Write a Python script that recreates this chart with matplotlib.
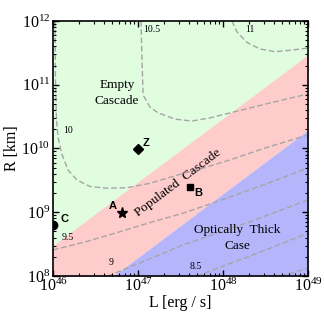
import numpy as np
import matplotlib
matplotlib.use("Agg")
from matplotlib import pyplot as plt
from matplotlib.ticker import LogLocator, NullFormatter

plt.rcParams['font.family'] = ['Liberation Serif', 'DejaVu Serif']
plt.rcParams['mathtext.fontset'] = 'stix'

# region boundaries, log10 L -> log10 R
bound_L = [46.0, 49.0]
green_red_R = [8.48, 11.47]     # empty / populated
red_blue_R = [7.29, 10.29]      # populated / optically thick

# dashed contours (log10 L, log10 R)
c11_L = [48.106, 48.165, 48.282, 48.435, 48.612, 48.824, 49.0]
c11_R = [12.0, 11.827, 11.663, 11.561, 11.518, 11.545, 11.576]
c105_L = [47.035, 47.047, 47.06, 47.14, 47.235, 47.435, 47.635, 47.847, 48.08, 48.553, 49.0]
c105_R = [12.0, 11.39, 10.84, 10.65, 10.56, 10.46, 10.43, 10.48, 10.557, 10.714, 10.855]
c10_L = [46.024, 46.029, 46.041, 46.059, 46.1, 46.176, 46.282, 46.435, 46.635,
         46.871, 47.141, 47.494, 47.729, 48.082, 48.494, 49.0]
c10_R = [12.0, 11.075, 10.447, 10.18, 9.929, 9.663, 9.506, 9.404, 9.376,
         9.385, 9.454, 9.595, 9.678, 9.82, 10.008, 10.212]
c95_L = [46.0, 46.388, 46.788, 47.176, 47.529, 48.082, 48.553, 49.0]
c95_R = [8.408, 8.538, 8.695, 8.852, 8.984, 9.239, 9.467, 9.694]
c9_L = [46.647, 47.529, 48.318, 49.0]
c9_R = [8.0, 8.486, 8.852, 9.192]
c85_L = [47.694, 48.318, 49.0]
c85_R = [8.0, 8.314, 8.67]
c8_L = [48.682, 49.0]
c8_R = [8.0, 8.121]

contours = [(c11_L, c11_R), (c105_L, c105_R), (c10_L, c10_R), (c95_L, c95_R),
            (c9_L, c9_R), (c85_L, c85_R), (c8_L, c8_R)]

clabels = ['11', '10.5', '10', '9.5', '9', '8.5']
clabel_L = [48.32, 47.16, 46.18, 46.176, 46.686, 47.682]
clabel_R = [11.86, 11.87, 10.28, 8.6, 8.209, 8.146]

# sources
src_names = ['Z', 'A', 'B', 'C']
src_L = [47.0, 46.808, 47.612, 46.0]
src_R = [9.99, 8.993, 9.40, 8.8]
src_marker = ['D', '*', 's', 'o']
src_size = [5, 8, 5, 6]
name_L = [47.094, 46.702, 47.709, 46.141]
name_R = [10.086, 9.098, 9.297, 8.894]

fig = plt.figure(figsize=(3.24, 3.20), dpi=100)
ax = fig.add_axes([0.1636, 0.1375, 0.787, 0.797])
ax.set_xscale('log')
ax.set_yscale('log')
ax.set_xlim(1e46, 1e49)
ax.set_ylim(1e8, 1e12)

L = 10.0 ** np.array(bound_L)
top = np.full(2, 1e12)
bot = np.full(2, 1e8)
ax.fill_between(L, 10.0 ** np.array(green_red_R), top, color='#e0fde0', lw=0, zorder=0)
ax.fill_between(L, 10.0 ** np.array(red_blue_R), 10.0 ** np.array(green_red_R), color='#ffcccc', lw=0, zorder=0)
ax.fill_between(L, bot, 10.0 ** np.array(red_blue_R), color='#b5b5fc', lw=0, zorder=0)

for cl, cr in contours:
    ax.plot(10.0 ** np.array(cl), 10.0 ** np.array(cr), color='#a5a5a5',
            lw=1.0, ls=(0, (4, 2)), zorder=1)

for t, x, y in zip(clabels, clabel_L, clabel_R):
    ax.text(10 ** x, 10 ** y, t, fontsize=7, ha='center', va='center', zorder=3)

ax.text(10 ** 46.753, 10 ** 10.87, 'Empty\nCascade', fontsize=9.5, ha='center',
        va='center', linespacing=1.5)
ax.text(10 ** 48.165, 10 ** 8.596, 'Optically  Thick\nCase', fontsize=9.5,
        ha='center', va='center', linespacing=1.5)
ax.text(10 ** 47.47, 10 ** 9.46, 'Populated  Cascade', fontsize=9.5, ha='center',
        va='center', rotation=37, rotation_mode='anchor')

for n, x, y, m, s, nx, ny in zip(src_names, src_L, src_R, src_marker, src_size, name_L, name_R):
    ax.plot(10 ** x, 10 ** y, marker=m, color='black', ms=s, ls='none', zorder=4)
    ax.text(10 ** nx, 10 ** ny, n, family='Liberation Sans', weight='bold',
            fontsize=8, ha='center', va='center', zorder=4)

ax.xaxis.set_major_locator(LogLocator(base=10, numticks=10))
ax.yaxis.set_major_locator(LogLocator(base=10, numticks=10))
ax.xaxis.set_minor_locator(LogLocator(base=10, subs=np.arange(2, 10), numticks=50))
ax.yaxis.set_minor_locator(LogLocator(base=10, subs=np.arange(2, 10), numticks=50))
ax.xaxis.set_minor_formatter(NullFormatter())
ax.yaxis.set_minor_formatter(NullFormatter())
ax.tick_params(which='both', direction='in', top=True, right=True, labelsize=11.5)
ax.tick_params(which='major', length=4, width=1)
ax.tick_params(which='minor', length=2, width=0.8)
ax.tick_params(axis='y', pad=2)
ax.tick_params(axis='x', pad=1)
for sp in ax.spines.values():
    sp.set_linewidth(1.2)

ax.set_xlabel('L [erg / s]', fontsize=11.5, labelpad=0)
ax.set_ylabel('R [km]', fontsize=11.5, labelpad=1)

fig.savefig('out.png', dpi=100)
